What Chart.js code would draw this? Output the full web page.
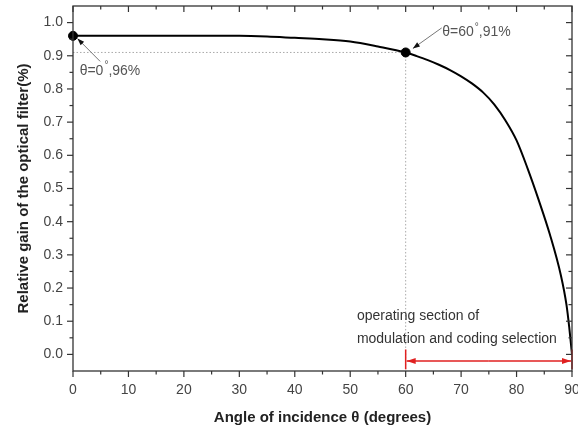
<!DOCTYPE html>
<html lang="en">
<head>
<meta charset="UTF-8">
<title>Relative gain of the optical filter</title>
<script src="https://cdn.jsdelivr.net/npm/chart.js"></script>
<style>
  html, body { margin: 0; padding: 0; background: #fff; }
</style>
</head>
<body>
<canvas id="gainChart" width="578" height="434"></canvas>
<script>
// curve (angle in degrees, relative gain)
const angles = [0, 10, 20, 30, 35, 40, 45, 50, 55, 60, 62, 64, 66, 68, 70, 72, 74, 76, 78, 80, 82, 84, 86, 88, 89, 89.5, 90];
const gain = [0.960, 0.960, 0.960, 0.960, 0.958, 0.954, 0.950, 0.943, 0.928, 0.910, 0.899, 0.887, 0.873, 0.857, 0.838, 0.816, 0.789, 0.753, 0.705, 0.645, 0.560, 0.465, 0.362, 0.238, 0.150, 0.082, 0.0];

// highlighted points and their labels
const markedAngles = [0, 60];
const markedGain = [0.96, 0.91];
const markLabelParts = [['θ=0', ',96%'], ['θ=60', ',91%']];
const markLabelAt = [[1.2, 0.855], [66.6, 0.970]];
const markArrowFrom = [[4.9, 0.883], [66.5, 0.984]];
const markArrowTo = [[0.8, 0.952], [61.3, 0.922]];

// operating section note
const sectionText = ['operating section of', 'modulation and coding selection'];
const sectionTextAt = [[51.2, 0.114], [51.2, 0.045]];
const sectionRange = [60, 90];
const sectionArrowY = -0.02;
const sectionBarY = [-0.045, 0.015];

const xTicks = [0, 10, 20, 30, 40, 50, 60, 70, 80, 90];
const yTicks = [0.0, 0.1, 0.2, 0.3, 0.4, 0.5, 0.6, 0.7, 0.8, 0.9, 1.0];
const yMin = -0.05, yMax = 1.05;

const FONT = 'Arial, "Liberation Sans", sans-serif';

function arrow(ctx, x1, y1, x2, y2, lineColor, headColor, headLen, headW) {
    ctx.strokeStyle = lineColor;
    ctx.beginPath();
    ctx.moveTo(x1, y1);
    ctx.lineTo(x2, y2);
    ctx.stroke();
    const ang = Math.atan2(y2 - y1, x2 - x1);
    ctx.fillStyle = headColor;
    ctx.beginPath();
    ctx.moveTo(x2, y2);
    ctx.lineTo(x2 - headLen * Math.cos(ang) + headW * Math.sin(ang), y2 - headLen * Math.sin(ang) - headW * Math.cos(ang));
    ctx.lineTo(x2 - headLen * Math.cos(ang) - headW * Math.sin(ang), y2 - headLen * Math.sin(ang) + headW * Math.cos(ang));
    ctx.closePath();
    ctx.fill();
}

const notes = {
    id: 'notes',
    afterDatasetsDraw(chart) {
        const {ctx, scales: {x, y}} = chart;
        ctx.save();
        ctx.lineWidth = 1;

        // labels of the two marked points
        markLabelParts.forEach((parts, i) => {
            const px = x.getPixelForValue(markLabelAt[i][0]);
            const py = y.getPixelForValue(markLabelAt[i][1]);
            ctx.fillStyle = '#555';
            ctx.textBaseline = 'middle';
            ctx.textAlign = 'left';
            ctx.font = '14px ' + FONT;
            ctx.fillText(parts[0], px, py);
            const w = ctx.measureText(parts[0]).width;
            ctx.font = '10px ' + FONT;
            ctx.fillText('°', px + w + 1, py - 5);
            const w2 = ctx.measureText('°').width;
            ctx.font = '14px ' + FONT;
            ctx.fillText(parts[1], px + w + w2 + 1, py);

            arrow(ctx,
                x.getPixelForValue(markArrowFrom[i][0]), y.getPixelForValue(markArrowFrom[i][1]),
                x.getPixelForValue(markArrowTo[i][0]), y.getPixelForValue(markArrowTo[i][1]),
                '#777', '#111', 7, 2.5);
        });

        // operating section text
        ctx.fillStyle = '#333';
        ctx.font = '14px ' + FONT;
        ctx.textBaseline = 'middle';
        sectionText.forEach((t, i) => {
            ctx.fillText(t, x.getPixelForValue(sectionTextAt[i][0]), y.getPixelForValue(sectionTextAt[i][1]));
        });

        // red double arrow 60..90
        const xa = x.getPixelForValue(sectionRange[0]);
        const xb = x.getPixelForValue(sectionRange[1]);
        const ya = y.getPixelForValue(sectionArrowY);
        ctx.lineWidth = 1.5;
        arrow(ctx, (xa + xb) / 2, ya, xa + 1, ya, '#e02020', '#e02020', 9, 3);
        arrow(ctx, (xa + xb) / 2, ya, xb - 1, ya, '#e02020', '#e02020', 9, 3);
        ctx.strokeStyle = '#e02020';
        [xa, xb].forEach(px => {
            ctx.beginPath();
            ctx.moveTo(px, y.getPixelForValue(sectionBarY[0]));
            ctx.lineTo(px, y.getPixelForValue(sectionBarY[1]));
            ctx.stroke();
        });
        ctx.restore();
    },
    afterDraw(chart) {
        // box frame with Origin-style ticks
        const {ctx, chartArea: a, scales: {x, y}} = chart;
        ctx.save();
        ctx.strokeStyle = '#333';
        ctx.lineWidth = 1.3;
        ctx.strokeRect(a.left, a.top, a.right - a.left, a.bottom - a.top);
        ctx.lineWidth = 1.2;
        const seg = (x1, y1, x2, y2) => { ctx.beginPath(); ctx.moveTo(x1, y1); ctx.lineTo(x2, y2); ctx.stroke(); };
        const xMarks = [];
        xTicks.forEach((v, i) => {
            xMarks.push([v, 6]);
            if (i < xTicks.length - 1) xMarks.push([(v + xTicks[i + 1]) / 2, 3.5]);
        });
        xMarks.forEach(([v, len]) => {
            const px = x.getPixelForValue(v);
            seg(px, a.bottom, px, a.bottom + len);
            seg(px, a.top, px, a.top + len);
        });
        const yMarks = [];
        yTicks.forEach((v, i) => {
            yMarks.push([v, 6]);
            if (i < yTicks.length - 1) yMarks.push([(v + yTicks[i + 1]) / 2, 3.5]);
        });
        yMarks.forEach(([v, len]) => {
            const py = y.getPixelForValue(v);
            seg(a.left - len, py, a.left, py);
            seg(a.right - len, py, a.right, py);
        });
        ctx.restore();
    }
};

const guide = {
    borderColor: '#aaa',
    borderWidth: 1,
    borderDash: [1.5, 2],
    pointRadius: 0,
    fill: false,
    order: 3
};

new Chart(document.getElementById('gainChart').getContext('2d'), {
    type: 'line',
    data: {
        datasets: [
            {
                data: angles.map((a, i) => ({x: a, y: gain[i]})),
                borderColor: '#000',
                borderWidth: 2,
                pointRadius: 0,
                cubicInterpolationMode: 'monotone',
                fill: false,
                order: 1
            },
            {
                data: markedAngles.map((a, i) => ({x: a, y: markedGain[i]})),
                showLine: false,
                pointRadius: 4.5,
                pointBackgroundColor: '#000',
                pointBorderColor: '#000',
                clip: false,
                order: 0
            },
            Object.assign({data: [{x: markedAngles[0], y: markedGain[1]}, {x: markedAngles[1], y: markedGain[1]}]}, guide),
            Object.assign({data: [{x: markedAngles[1], y: markedGain[1]}, {x: markedAngles[1], y: yMin}]}, guide)
        ]
    },
    options: {
        responsive: false,
        animation: false,
        layout: {padding: {top: 6, right: 6, left: 0, bottom: 0}},
        plugins: {legend: {display: false}, tooltip: {enabled: false}},
        scales: {
            x: {
                type: 'linear',
                min: 0,
                max: 90,
                grid: {display: false, drawTicks: false},
                border: {display: false},
                afterBuildTicks: s => { s.ticks = xTicks.map(v => ({value: v})); },
                afterFit: s => { s.height = 63; s.paddingLeft = 0; s.paddingRight = 0; },
                ticks: {color: '#444', font: {family: FONT, size: 14}, padding: 11, maxRotation: 0, autoSkip: false},
                title: {
                    display: true,
                    text: 'Angle of incidence θ (degrees)',
                    color: '#222',
                    font: {family: FONT, size: 15, weight: 'bold'},
                    padding: {top: 0, bottom: 7}
                }
            },
            y: {
                type: 'linear',
                min: yMin,
                max: yMax,
                grid: {display: false, drawTicks: false},
                border: {display: false},
                afterBuildTicks: s => { s.ticks = yTicks.map(v => ({value: v})); },
                afterFit: s => { s.width = 73; s.paddingTop = 0; s.paddingBottom = 0; },
                ticks: {color: '#444', font: {family: FONT, size: 14}, padding: 10, callback: v => v.toFixed(1)},
                title: {
                    display: true,
                    text: 'Relative gain of the optical filter(%)',
                    color: '#222',
                    font: {family: FONT, size: 15, weight: 'bold'},
                    padding: {top: 15, bottom: 15}
                }
            }
        }
    },
    plugins: [notes]
});
</script>
</body>
</html>
